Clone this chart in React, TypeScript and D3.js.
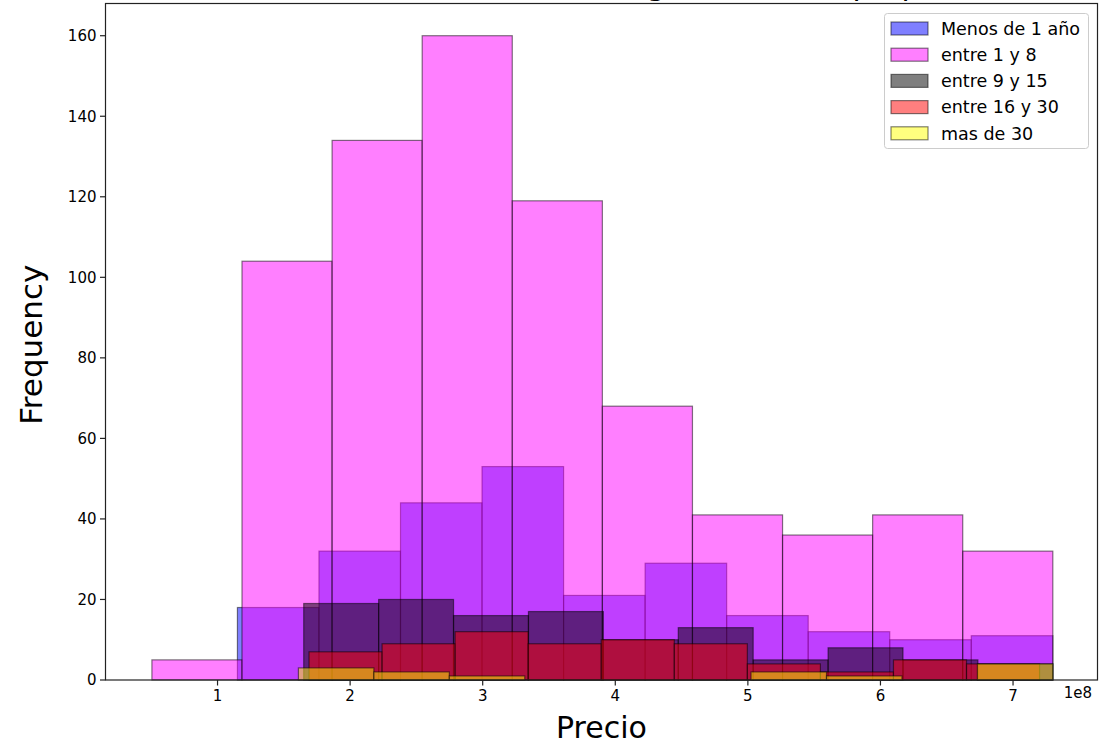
import React, { useEffect, useRef } from 'react';
import * as d3 from 'd3';

// age groups, in the order matplotlib drew them
const groups = ['Menos de 1 año', 'entre 1 y 8', 'entre 9 y 15', 'entre 16 y 30', 'mas de 30'];
const groupColors = ['blue', 'magenta', 'black', 'red', 'yellow'];

// bin range of each group, price in units of 1e8
const binRanges = [
  [1.15, 7.3],
  [0.505, 7.3],
  [1.65, 7.3],
  [1.69, 7.2],
  [1.61, 7.3],
];

// counts per bin (10 bins each)
const menosDe1 = [18, 32, 44, 53, 21, 29, 16, 12, 10, 11];
const entre1y8 = [5, 104, 134, 160, 119, 68, 41, 36, 41, 32];
const entre9y15 = [19, 20, 16, 17, 10, 13, 5, 8, 5, 4];
const entre16y30 = [7, 9, 12, 9, 10, 9, 4, 2, 5, 4];
const masDe30 = [3, 2, 1, 0, 0, 0, 2, 1, 0, 4];
const counts = [menosDe1, entre1y8, entre9y15, entre16y30, masDe30];

const xTicks = [1, 2, 3, 4, 5, 6, 7];
const yTicks = [0, 20, 40, 60, 80, 100, 120, 140, 160];

// title sits above the visible figure, only its descenders peek in
const title = 'Distribución del Precio vs Antigüedad de la propiedad';

const FONT = 'DejaVu Sans';

const App = () => {
  const svgRef = useRef<SVGSVGElement>(null);

  useEffect(() => {
    const width = 1104;
    const height = 747;
    const plot = { left: 105.5, right: 1097.5, top: 3.5, bottom: 680 };

    const svg = d3.select(svgRef.current).attr('width', width).attr('height', height);
    svg.selectAll('*').remove();

    svg.append('rect').attr('width', width).attr('height', height).attr('fill', 'white');

    const x = d3.scaleLinear().domain([0.155, 7.637]).range([plot.left, plot.right]);
    const y = d3.scaleLinear().domain([0, 168]).range([plot.bottom, plot.top]);

    svg
      .append('text')
      .attr('x', (plot.left + plot.right) / 2)
      .attr('y', -5)
      .attr('text-anchor', 'middle')
      .style('font-family', FONT)
      .style('font-size', '30px')
      .text(title);

    // histograms
    groups.forEach((g, gi) => {
      const [start, end] = binRanges[gi];
      const n = counts[gi].length;
      const w = (end - start) / n;
      const bins = counts[gi].map((c, i) => ({ x0: start + i * w, x1: start + (i + 1) * w, c }));

      svg
        .append('g')
        .selectAll('rect')
        .data(bins.filter((b) => b.c > 0))
        .enter()
        .append('rect')
        .attr('x', (d) => x(d.x0))
        .attr('y', (d) => y(d.c))
        .attr('width', (d) => x(d.x1) - x(d.x0))
        .attr('height', (d) => y(0) - y(d.c))
        .attr('fill', groupColors[gi])
        .attr('fill-opacity', 0.5)
        .attr('stroke', 'black')
        .attr('stroke-opacity', 0.5)
        .attr('stroke-width', 1.2);
    });

    // spines
    svg
      .append('rect')
      .attr('x', plot.left)
      .attr('y', plot.top)
      .attr('width', plot.right - plot.left)
      .attr('height', plot.bottom - plot.top)
      .attr('fill', 'none')
      .attr('stroke', '#222')
      .attr('stroke-width', 1.2);

    // x axis
    const xAxis = svg.append('g');
    xTicks.forEach((t) => {
      xAxis
        .append('line')
        .attr('x1', x(t))
        .attr('x2', x(t))
        .attr('y1', plot.bottom)
        .attr('y2', plot.bottom + 5.5)
        .attr('stroke', '#222')
        .attr('stroke-width', 1.2);
      xAxis
        .append('text')
        .attr('x', x(t))
        .attr('y', 701)
        .attr('text-anchor', 'middle')
        .style('font-family', FONT)
        .style('font-size', '15px')
        .text(t);
    });
    xAxis
      .append('text')
      .attr('x', 1092)
      .attr('y', 698)
      .attr('text-anchor', 'end')
      .style('font-family', FONT)
      .style('font-size', '15px')
      .text('1e8');

    // y axis
    const yAxis = svg.append('g');
    yTicks.forEach((t) => {
      yAxis
        .append('line')
        .attr('x1', plot.left - 5.5)
        .attr('x2', plot.left)
        .attr('y1', y(t))
        .attr('y2', y(t))
        .attr('stroke', '#222')
        .attr('stroke-width', 1.2);
      yAxis
        .append('text')
        .attr('x', plot.left - 9)
        .attr('y', y(t))
        .attr('dy', '0.36em')
        .attr('text-anchor', 'end')
        .style('font-family', FONT)
        .style('font-size', '15px')
        .text(t);
    });

    // axis labels
    svg
      .append('text')
      .attr('x', (plot.left + plot.right) / 2)
      .attr('y', 738)
      .attr('text-anchor', 'middle')
      .style('font-family', FONT)
      .style('font-size', '30px')
      .text('Precio');

    svg
      .append('text')
      .attr('transform', `translate(42,${(plot.top + plot.bottom) / 2 + 3}) rotate(-90)`)
      .attr('text-anchor', 'middle')
      .style('font-family', FONT)
      .style('font-size', '31px')
      .text('Frequency');

    // legend
    const legend = svg.append('g');
    legend
      .append('rect')
      .attr('x', 884.5)
      .attr('y', 13.5)
      .attr('width', 204)
      .attr('height', 135)
      .attr('rx', 3)
      .attr('fill', 'white')
      .attr('fill-opacity', 0.8)
      .attr('stroke', '#cccccc');

    groups.forEach((g, i) => {
      const cy = 28.5 + i * 26.2;
      legend
        .append('rect')
        .attr('x', 891)
        .attr('y', cy - 6.5)
        .attr('width', 37)
        .attr('height', 13)
        .attr('fill', groupColors[i])
        .attr('fill-opacity', 0.5)
        .attr('stroke', 'black')
        .attr('stroke-opacity', 0.5)
        .attr('stroke-width', 1.2);
      legend
        .append('text')
        .attr('x', 941)
        .attr('y', cy)
        .attr('dy', '0.36em')
        .style('font-family', FONT)
        .style('font-size', '17.5px')
        .text(g);
    });
  }, []);

  return <svg ref={svgRef} style={{ position: 'absolute', left: 0, top: 0 }}></svg>;
};

export default App;
